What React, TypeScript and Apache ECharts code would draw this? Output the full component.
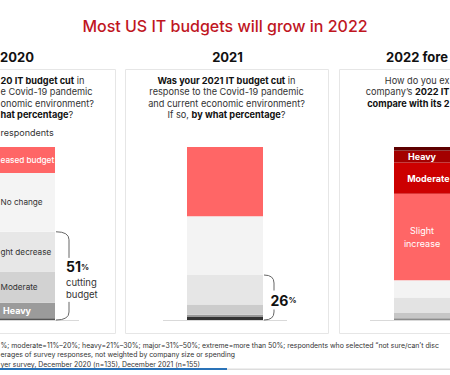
import React, { useEffect, useRef } from 'react';
import * as echarts from 'echarts';

// ---------- data ----------
const years = ['2020', '2021', '2022 forecast'];
const headingTexts = ['2020', '2021', '2022 fore'];
const segs2020 = ['Major', 'Heavy', 'Moderate', 'Slight decrease', 'No change', 'Increased budget'];
const vals2020 = [1, 9, 18, 23, 34, 15];
const segs2021 = ['Major', 'Heavy', 'Moderate', 'Slight decrease', 'No change', 'Increased budget'];
const vals2021 = [2, 1, 6, 17, 34, 40];
const segs2022 = ['Heavy decrease', 'Moderate decrease', 'Slight decrease', 'No change', 'Slight increase', 'Moderate', 'Heavy', 'Major'];
const vals2022 = [1, 3, 9, 10, 50, 18, 7, 2];
const cutTotals = [51, 26];
// visible (cropped) label texts as they appear in the picture
const shownLabels2020 = ['', 'Heavy', 'Moderate', 'ght decrease', 'No change', 'eased budget'];
const shownLabels2021 = ['', '', '', '', '', ''];
const shownLabels2022 = ['', '', '', '', 'Slight\nincrease', 'Moderate', 'Heavy', ''];

// ---------- styles ----------
const FONT = 'Inter, "Noto Sans", sans-serif';
const colors2020 = ['#555555', '#9b9b9b', '#d2d2d2', '#e7e7e7', '#f4f4f4', '#ff6666'];
const colors2021 = ['#333333', '#999999', '#cccccc', '#e6e6e6', '#f3f3f3', '#ff6666'];
const colors2022 = ['#8c8c8c', '#c6c6c6', '#e3e3e3', '#f3f3f3', '#ff6666', '#cc0000', '#a30000', '#5e0000'];
const lblColor2020 = ['#fff', '#fff', '#333', '#333', '#333', '#fff'];
const lblColor2022 = ['#fff', '#fff', '#333', '#333', '#fff', '#fff', '#fff', '#fff'];
const lblWeight2020 = ['bold', 'bold', 'normal', 'normal', 'normal', 500];
const lblWeight2022 = ['bold', 'bold', 'normal', 'normal', 'normal', 'bold', 'bold', 'bold'];
// 'c' centred on the bar, 'l' flush with the left page edge, 'r' flush with the right page edge
const lblPlace2020 = ['c', 'c', 'l', 'l', 'l', 'l'];
const lblPlace2022 = ['c', 'c', 'c', 'c', 'c', 'r', 'c', 'c'];

const centers = [17, 225, 432];
const BAR_W = 76;
const GRID_TOP = 147;
const GRID_H = 173;
const PAGE_W = 450;

export default function App() {
  const ref = useRef<HTMLDivElement>(null);

  useEffect(() => {
    const chart = echarts.init(ref.current!, null, { renderer: 'svg' });

    const bars = [
      { segs: segs2020, vals: vals2020, colors: colors2020, shown: shownLabels2020, lc: lblColor2020, lw: lblWeight2020, pl: lblPlace2020 },
      { segs: segs2021, vals: vals2021, colors: colors2021, shown: shownLabels2021, lc: lblColor2020, lw: lblWeight2020, pl: lblPlace2020 },
      { segs: segs2022, vals: vals2022, colors: colors2022, shown: shownLabels2022, lc: lblColor2022, lw: lblWeight2022, pl: lblPlace2022 },
    ];

    const grids = centers.map((c) => ({ left: c - BAR_W / 2, top: GRID_TOP, width: BAR_W, height: GRID_H }));
    const xAxis = years.map((y, i) => ({
      type: 'category' as const, gridIndex: i, data: [y], show: false,
    }));
    const yAxis = years.map((_, i) => ({
      type: 'value' as const, gridIndex: i, min: 0, max: 100, show: false,
    }));

    const series: any[] = [];
    bars.forEach((b, gi) => {
      const barLeft = centers[gi] - BAR_W / 2;
      b.segs.forEach((name, si) => {
        const txt = b.shown[si];
        const place = b.pl[si];
        let position: any = 'inside';
        let align: any = 'center';
        if (place === 'r') { position = [PAGE_W - 0.5 - barLeft, '50%']; align = 'right'; }
        series.push({
          type: 'bar',
          name: years[gi] + ' ' + name,
          xAxisIndex: gi,
          yAxisIndex: gi,
          stack: 's' + gi,
          barWidth: BAR_W,
          data: [b.vals[si]],
          itemStyle: { color: b.colors[si] },
          label: {
            // the first bar is partly off the page: its labels are drawn below as texts
            show: gi !== 0 && txt !== '',
            position,
            align,
            verticalAlign: 'middle',
            formatter: txt,
            color: b.lc[si],
            fontWeight: b.lw[si],
            fontSize: 9,
            lineHeight: 13,
            fontFamily: FONT,
          },
        });
      });
    });

    chart.setOption({
      animation: false,
      backgroundColor: '#ffffff',
      grid: grids,
      xAxis,
      yAxis,
      series,
    });

    // ---------- annotations ----------
    const g: any[] = [];
    const panelXs = [[-88.5, 115.5], [125.5, 328.5], [339.5, 560]];
    panelXs.forEach(([l, r]) => {
      g.push({ type: 'rect', shape: { x: l, y: 69.5, width: r - l, height: 264 }, style: { fill: 'none', stroke: '#e6e6e6', lineWidth: 1 }, silent: true });
    });

    // labels of the first bar, placed at each segment's middle via the chart's scale
    let cum = 0;
    vals2020.forEach((v, si) => {
      const midY = (chart.convertToPixel({ gridIndex: 0 }, [0, cum + v / 2]) as number[])[1];
      cum += v;
      const txt = shownLabels2020[si];
      if (!txt) return;
      const left = lblPlace2020[si] === 'l';
      g.push({
        type: 'text', x: left ? 0.5 : centers[0], y: midY, z: 10,
        style: { text: txt, fill: lblColor2020[si], font: `${lblWeight2020[si]} ${left ? 8.2 : 9}px ${FONT}`, align: left ? 'left' : 'center', verticalAlign: 'middle' },
      });
    });

    // title and headings
    g.push({ type: 'text', x: 225, y: 26, style: { text: 'Most US IT budgets will grow in 2022', fill: '#c0161f', font: `500 16px ${FONT}`, align: 'center', verticalAlign: 'middle' } });
    const headX = [0, 227.5, 386];
    const headAlign = ['left', 'center', 'left'];
    headingTexts.forEach((t, i) => {
      g.push({ type: 'text', x: headX[i], y: 57, style: { text: t, fill: '#111', font: `bold 13px ${FONT}`, align: headAlign[i], verticalAlign: 'middle' } });
    });

    const rich = {
      b: { fontWeight: 'bold', fill: '#111', fontSize: 9.2, fontFamily: FONT },
      n: { fill: '#333', fontSize: 9.2, fontFamily: FONT },
    };
    const q1 = '{b|20 IT budget cut}{n| in}\n{n|e Covid-19 pandemic}\n{n|onomic environment?}\n{b|hat percentage}{n|?}';
    const q2 = '{b|Was your 2021 IT budget cut}{n| in}\n{n|response to the Covid-19 pandemic}\n{n|and current economic environment?}\n{n|If so, }{b|by what percentage}{n|?}';
    const q3 = '{n|How do you ex}\n{n|company\u2019s }{b|2022 IT}\n{b|compare with its 2}';
    const qs: [string, number, string][] = [[q1, 0.5, 'left'], [q2, 226.5, 'center'], [q3, PAGE_W - 0.5, 'right']];
    qs.forEach(([t, x, al]) => {
      g.push({ type: 'text', x, y: 75, style: { text: t, rich, align: al, verticalAlign: 'top', lineHeight: 11.3, fontSize: 9.2, fontFamily: FONT } });
    });
    g.push({ type: 'text', x: 0.5, y: 132, style: { text: 'respondents', fill: '#333', font: `9px ${FONT}`, align: 'left', verticalAlign: 'middle' } });

    // baselines + brackets (positions from the chart's own scales)
    for (let i = 0; i < 3; i++) {
      const base = chart.convertToPixel({ gridIndex: i }, [0, 0]) as number[];
      const yb = Math.round(base[1]) + 0.5;
      g.push({ type: 'line', shape: { x1: centers[i] - 62, y1: yb, x2: centers[i] + 62, y2: yb }, style: { stroke: '#d9d9d9', lineWidth: 1 } });
    }
    const bracketW = [13, 10];
    const gaps = [[-18, 26], [-7, 12]];
    cutTotals.forEach((t, i) => {
      const top = (chart.convertToPixel({ gridIndex: i }, [0, t]) as number[])[1];
      const bot = (chart.convertToPixel({ gridIndex: i }, [0, 0]) as number[])[1];
      const xb = centers[i] + BAR_W / 2 + 1;
      const xv = xb + bracketW[i];
      const r = 8;
      const mid = (top + bot) / 2;
      const st = { stroke: '#666', lineWidth: 1, fill: 'none' };
      g.push({ type: 'bezierCurve', shape: { x1: xb, y1: top, cpx1: xv, cpy1: top, x2: xv, y2: top + r }, style: st });
      g.push({ type: 'line', shape: { x1: xv, y1: top + r, x2: xv, y2: mid + gaps[i][0] }, style: st });
      g.push({ type: 'line', shape: { x1: xv, y1: mid + gaps[i][1], x2: xv, y2: bot - r }, style: st });
      g.push({ type: 'bezierCurve', shape: { x1: xv, y1: bot - r, cpx1: xv, cpy1: bot, x2: xb, y2: bot }, style: st });
      const pctRich = {
        big: { fontWeight: 'bold', fontSize: 14, fill: '#111', fontFamily: FONT },
        sm: { fontWeight: 'bold', fontSize: 8, fill: '#111', fontFamily: FONT },
      };
      if (i === 0) {
        g.push({ type: 'text', x: xv - 3, y: mid - 9, style: { text: `{big|${t}}{sm|%}`, rich: pctRich, align: 'left', verticalAlign: 'middle' } });
        g.push({ type: 'text', x: xv - 3, y: mid + 13, style: { text: 'cutting\nbudget', fill: '#333', font: `9.5px ${FONT}`, lineHeight: 12, align: 'left', verticalAlign: 'middle' } });
      } else {
        g.push({ type: 'text', x: xv - 3.5, y: mid + 2.5, style: { text: `{big|${t}}{sm|%}`, rich: pctRich, align: 'left', verticalAlign: 'middle' } });
      }
    });

    // footer (visible parts of the cropped notes)
    const foot = [
      '%; moderate=11%\u201320%; heavy=21%\u201330%; major=31%\u201350%; extreme=more than 50%; respondents who selected \u201cnot sure/can\u2019t disc',
      'erages of survey responses, not weighted by company size or spending',
      'yer survey, December 2020 (n=135), December 2021 (n=155)',
    ];
    foot.forEach((t, i) => {
      g.push({ type: 'text', x: 0.5, y: 345 + i * 9.5, style: { text: t, fill: '#333', font: `6.9px ${FONT}`, align: 'left', verticalAlign: 'middle' } });
    });
    g.push({ type: 'rect', shape: { x: 0, y: 368, width: 227, height: 2 }, style: { fill: '#2a73b8' } });
    g.push({ type: 'rect', shape: { x: 227, y: 368.5, width: 223, height: 1.5 }, style: { fill: '#dddddd' } });

    chart.setOption({ graphic: g });

    return () => chart.dispose();
  }, []);

  return <div ref={ref} style={{ position: 'fixed', left: 0, top: 0, width: 450, height: 375 }} />;
}
